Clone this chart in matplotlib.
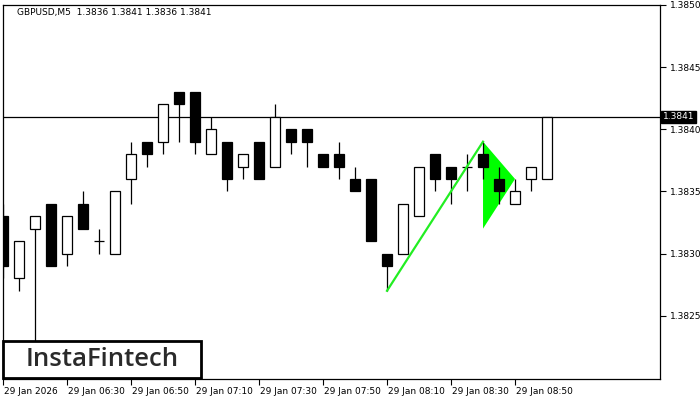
import numpy as np
import matplotlib
matplotlib.use("Agg")
import matplotlib.pyplot as plt
import matplotlib.transforms as mtransforms
from matplotlib.patches import Rectangle, Polygon

# GBPUSD M5 candles, 29 Jan 06:10 .. 09:00
opens = [1.3833, 1.3828, 1.3832, 1.3834, 1.3830, 1.3834, 1.3831, 1.3830, 1.3836, 1.3839,
         1.3839, 1.3843, 1.3843, 1.3838, 1.3839, 1.3837, 1.3839, 1.3837, 1.3840, 1.3840,
         1.3838, 1.3838, 1.3836, 1.3836, 1.3830, 1.3830, 1.3833, 1.3838, 1.3837, 1.3837,
         1.3838, 1.3836, 1.3834, 1.3836, 1.3836]
highs = [1.3834, 1.3831, 1.3833, 1.3834, 1.3833, 1.3835, 1.3832, 1.3835, 1.3839, 1.3839,
         1.3842, 1.3843, 1.3843, 1.3841, 1.3839, 1.3838, 1.3839, 1.3842, 1.3840, 1.3840,
         1.3838, 1.3839, 1.3837, 1.3836, 1.3830, 1.3834, 1.3837, 1.3838, 1.3837, 1.3838,
         1.3839, 1.3837, 1.3836, 1.3837, 1.3841]
lows = [1.3828, 1.3827, 1.3822, 1.3829, 1.3829, 1.3832, 1.3830, 1.3830, 1.3834, 1.3837,
        1.3838, 1.3839, 1.3838, 1.3838, 1.3835, 1.3836, 1.3836, 1.3837, 1.3838, 1.3837,
        1.3837, 1.3836, 1.3835, 1.3831, 1.3827, 1.3830, 1.3833, 1.3835, 1.3834, 1.3835,
        1.3836, 1.3834, 1.3834, 1.3835, 1.3836]
closes = [1.3829, 1.3831, 1.3833, 1.3829, 1.3833, 1.3832, 1.3831, 1.3835, 1.3838, 1.3838,
          1.3842, 1.3842, 1.3839, 1.3840, 1.3836, 1.3838, 1.3836, 1.3841, 1.3839, 1.3839,
          1.3837, 1.3837, 1.3835, 1.3831, 1.3829, 1.3834, 1.3837, 1.3836, 1.3836, 1.3837,
          1.3837, 1.3835, 1.3835, 1.3837, 1.3841]

tick_idx = [0, 4, 8, 12, 16, 20, 24, 28, 32]
tick_labels = ["29 Jan 2026", "29 Jan 06:30", "29 Jan 06:50", "29 Jan 07:10", "29 Jan 07:30",
               "29 Jan 07:50", "29 Jan 08:10", "29 Jan 08:30", "29 Jan 08:50"]
price_ticks = [1.3825, 1.3830, 1.3835, 1.3840, 1.3845, 1.3850]
last_price = 1.3841

# bullish pennant: pole and flag triangle
pole_x = [24, 30]
pole_y = [1.3827, 1.3839]
flag_x = [30, 30, 32]
flag_y = [1.3839, 1.3832, 1.3836]

title = "GBPUSD,M5  1.3836 1.3841 1.3836 1.3841"

fig = plt.figure(figsize=(7, 4), dpi=100)
ax = fig.add_axes([2.5 / 700, 21 / 400, 657.5 / 700, 374 / 400])

x = np.arange(len(opens))
o = np.array(opens)
c = np.array(closes)

# flag sits behind the candles
ax.add_patch(Polygon(list(zip(flag_x, flag_y)), closed=True, facecolor="#00ff00",
                     edgecolor="none", zorder=1.5))

ax.vlines(x, lows, highs, color="black", linewidth=0.9, zorder=2)
up = c > o
dn = c < o
eq = c == o
ax.bar(x[up], (c - o)[up], bottom=o[up], width=0.66, color="white",
       edgecolor="black", linewidth=0.9, zorder=3)
ax.bar(x[dn], (o - c)[dn], bottom=c[dn], width=0.66, color="black",
       edgecolor="black", linewidth=0.9, zorder=3)
ax.hlines(o[eq], x[eq] - 0.33, x[eq] + 0.33, color="black", linewidth=0.9, zorder=3)

ax.plot(pole_x, pole_y, color="#22ee22", linewidth=1.6, zorder=4)

ax.axhline(last_price, color="black", linewidth=0.9, zorder=1)

ax.set_xlim(-0.03, 41.06)
ax.set_ylim(1.38199, 1.38499)

ax.yaxis.tick_right()
ax.set_yticks(price_ticks)
ax.set_yticklabels([f"{p:.4f}" for p in price_ticks])
ax.set_xticks(tick_idx)
ax.set_xticklabels(tick_labels, ha="left")
ax.tick_params(axis="both", labelsize=6.5, length=4, width=0.8, direction="out", pad=2)
ax.tick_params(axis="y", pad=3)
for s in ax.spines.values():
    s.set_linewidth(0.9)

# shift x labels slightly right of ticks
offset = mtransforms.ScaledTranslation(1 / 100, 0, fig.dpi_scale_trans)
for lab in ax.get_xticklabels():
    lab.set_transform(lab.get_transform() + offset)

# last price marker on the right axis
ax.text(1.0 + 3 / 657.5, last_price, f"{last_price:.4f}", transform=ax.get_yaxis_transform(),
        ha="left", va="center", fontsize=6.5, color="white", zorder=10, clip_on=False,
        bbox=dict(boxstyle="square,pad=0.2", facecolor="black", edgecolor="black"))

fig.text(17 / 700, 1 - 12 / 400, title, fontsize=6.5, va="center", ha="left")

# logo box
fig.patches.append(Rectangle((3 / 700, 22 / 400), 198 / 700, 37 / 400, transform=fig.transFigure,
                             facecolor="white", edgecolor="black", linewidth=2, zorder=20))
fig.text(102 / 700, 40.5 / 400, "InstaFintech", fontsize=18.5, family="Open Sans", fontweight="semibold",
         color="#2a2a2a", ha="center", va="center", zorder=21)

fig.savefig("out.png", dpi=100)
